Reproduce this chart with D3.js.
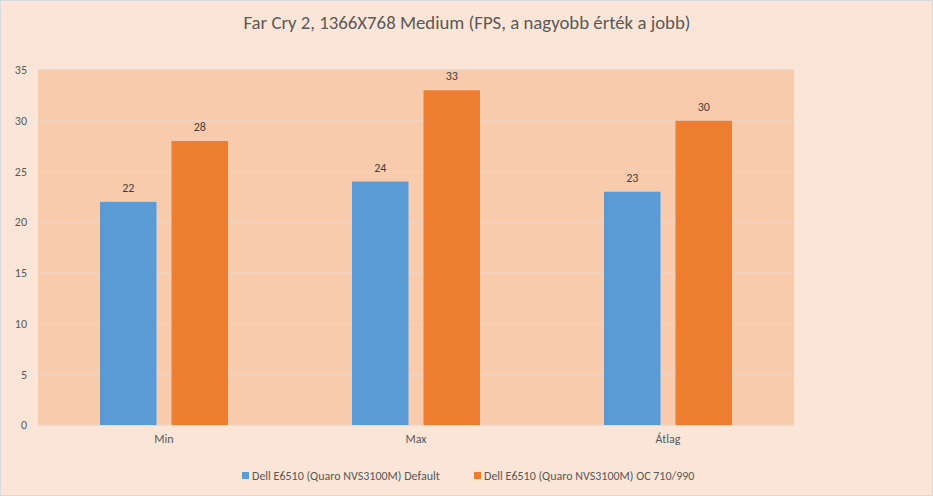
<!DOCTYPE html>
<html><head><meta charset="utf-8">
<script src="https://cdn.jsdelivr.net/npm/d3@7"></script>
<style>
body{margin:0;background:#fff;}
svg text{font-family:Carlito,Calibri,Lato,"Open Sans",sans-serif;}
</style></head>
<body><svg id="c" width="933" height="496"></svg>
<script>
const title = "Far Cry 2, 1366X768 Medium (FPS, a nagyobb érték a jobb)";
const categories = ["Min", "Max", "Átlag"];
const seriesNames = ["Dell E6510 (Quaro NVS3100M) Default", "Dell E6510 (Quaro NVS3100M) OC 710/990"];
const defaultValues = [22, 24, 23];
const ocValues = [28, 33, 30];
const yTicks = [0, 5, 10, 15, 20, 25, 30, 35];
const colors = ["#5b9bd5", "#ed7d31"];

const W = 933, H = 496;
const m = {left: 38, right: 139, top: 70, bottom: 71};
const svg = d3.select("#c");
svg.append("rect").attr("x",0.5).attr("y",0.5).attr("width",W-1).attr("height",H-1)
  .attr("fill","#fbe5d6").attr("stroke","#d9d9d9");

const x0 = d3.scaleBand().domain(categories).range([m.left, W-m.right]);
const x1 = d3.scaleBand().domain([0,1]).range([0, 128]).paddingInner(0.21);
const y = d3.scaleLinear().domain([0,35]).range([H-m.bottom, m.top]);

svg.append("rect").attr("x",m.left).attr("y",m.top).attr("width",W-m.left-m.right).attr("height",H-m.top-m.bottom)
  .attr("fill","#f8cbad");

svg.append("g").selectAll("line").data(yTicks).join("line")
  .attr("x1",m.left).attr("x2",W-m.right).attr("y1",d=>y(d)).attr("y2",d=>y(d))
  .attr("stroke","#efd3bf").attr("stroke-width",1.3);

const yAxis = svg.append("g").attr("transform",`translate(${m.left},0)`)
  .call(d3.axisLeft(y).tickValues(yTicks).tickSize(0).tickPadding(11));
yAxis.select(".domain").remove();
yAxis.selectAll("text").attr("font-size",12).attr("fill","#595959");

const xAxis = svg.append("g").attr("transform",`translate(0,${H-m.bottom})`)
  .call(d3.axisBottom(x0).tickSize(0).tickPadding(9));
xAxis.select(".domain").remove();
xAxis.selectAll("text").attr("font-size",12).attr("fill","#595959");

const series = [defaultValues, ocValues];
series.forEach((vals, si) => {
  const g = svg.append("g");
  const bx = c => x0(c) + (x0.bandwidth()-128)/2 + x1(si);
  g.selectAll("rect").data(categories).join("rect")
    .attr("x", c => bx(c)).attr("width", x1.bandwidth())
    .attr("y", (c,i) => y(vals[i])).attr("height", (c,i) => y(0)-y(vals[i]))
    .attr("fill", colors[si]);
  g.selectAll("text").data(categories).join("text")
    .attr("x", c => bx(c) + x1.bandwidth()/2).attr("y", (c,i) => y(vals[i]) - 10)
    .attr("text-anchor","middle").attr("font-size",12).attr("fill","#404040")
    .text((c,i) => vals[i]);
});

svg.append("text").attr("x",467).attr("y",29).attr("text-anchor","middle")
  .attr("font-size",18.8).attr("fill","#595959").text(title);

const lg = svg.append("g");
const legX = [242, 474];
seriesNames.forEach((n,i) => {
  lg.append("rect").attr("x",legX[i]).attr("y",472).attr("width",7).attr("height",7).attr("fill",colors[i]);
  lg.append("text").attr("x",legX[i]+10).attr("y",480).attr("font-size",12).attr("fill","#595959").text(n);
});
</script></body></html>
